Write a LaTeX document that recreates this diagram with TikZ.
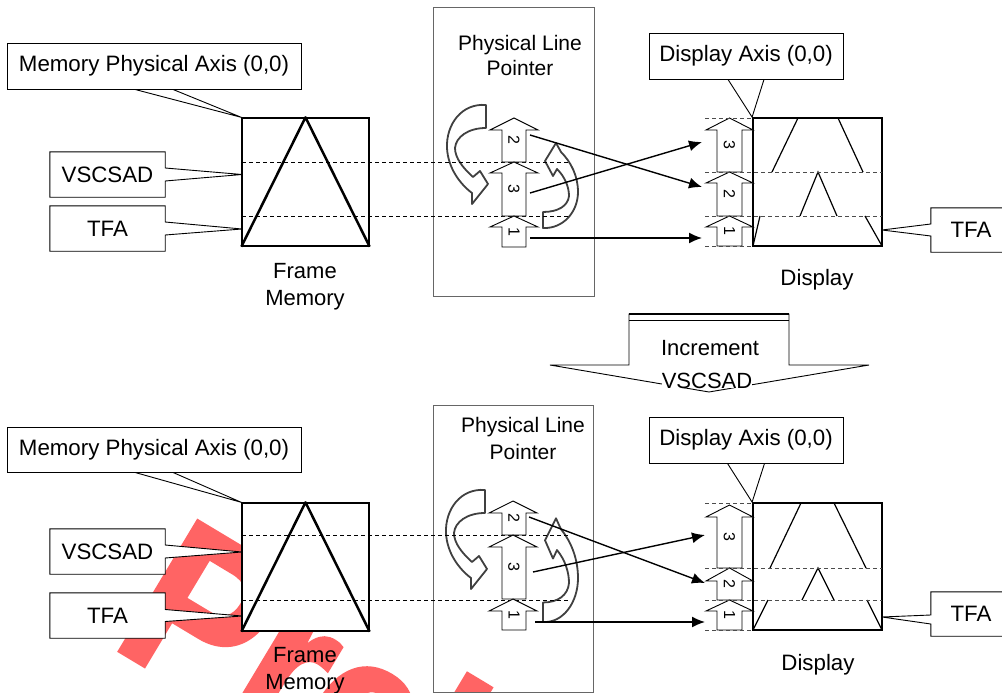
\documentclass[tikz,border=0pt]{standalone}
\usepackage{fontspec}
\setmainfont{Liberation Sans}
\newfontfamily\wmfont{Liberation Sans}[FakeBold=2.5]
\usetikzlibrary{arrows.meta}
\pgfdeclarelayer{wm}
\pgfdeclarelayer{bg}
\pgfsetlayers{wm,bg,main}
\definecolor{wmred}{RGB}{255,100,100}
% block up-arrow: name, head left, shaft left, shaft right, head right, top, head base, bottom, label
\newcommand\blkup[9]{%
  \draw[blk] (#3,#8) -- (#3,#7) -- (#2,#7) -- ({(#2+#5)/2},#6) -- (#5,#7) -- (#4,#7) -- (#4,#8) -- cycle;
  \node[num] (#1) at ({(#3+#4)/2},{(#6+#8)/2}) {#9};}
\newcommand\leftcurv{%
  \draw[curv] (0,0) .. controls (-24,-2) and (-40,19) .. (-39,43) .. controls (-38,63) and (-26,79) .. (-14,88)
    -- (-14,99) -- (2,79) -- (-6,66) -- (-13,72) .. controls (-23,63) and (-31,53) .. (-31,43)
    .. controls (-30,32) and (-18,23) .. (0,23) -- cycle;}
\newcommand\rightcurv{%
  \draw[curv] (0,0) .. controls (20,1) and (35,-16) .. (35,-36) .. controls (35,-52) and (28,-66) .. (18,-76)
    -- (13,-85) -- (2,-67) -- (10,-52) -- (14,-59) .. controls (22,-51) and (26,-41) .. (26,-32)
    .. controls (25,-22) and (15,-16) .. (0,-16) -- cycle;}
\begin{document}
\begin{tikzpicture}[x=1pt,y=-1pt,
  lbl/.style={font=\fontsize{22.3}{27}\selectfont, inner sep=0pt, align=center},
  box/.style={lbl, draw, fill=white, line width=0.9pt},
  co/.style={draw, fill=white, line width=0.9pt, line join=miter},
  num/.style={font=\fontsize{16}{16}\selectfont, rotate=-90, inner sep=0pt},
  blk/.style={draw, fill=white, line width=0.9pt, line join=miter},
  dsh/.style={dash pattern=on 4pt off 3pt, line width=0.8pt},
  dshg/.style={dsh, draw=black!70},
  conn/.style={line width=1.4pt, -{Latex[length=13pt,width=11pt]}},
  frm/.style={draw, fill=white, line width=1.3pt, minimum width=127pt, minimum height=128pt, inner sep=0pt},
  dsp/.style={draw, fill=white, line width=1.8pt, minimum width=129pt, minimum height=128pt, inner sep=0pt},
  tri/.style={line width=2.5pt, line join=round},
  dl/.style={line width=1.2pt},
  ptr/.style={draw=black!60, line width=1pt, inner sep=0pt},
  curv/.style={draw=black!75, fill=white, line width=1.8pt, line join=round},
]
\useasboundingbox (0,0) rectangle (1002,693);
\begin{pgfonlayer}{wm}
  \fill[white] (0,0) rectangle (1002,693);
  \begin{scope}
    \clip (0,0) rectangle (1002,693);
    \node[anchor=base west, rotate=-31, xscale=0.88, inner sep=0pt, text=wmred,
      font=\wmfont\bfseries\fontsize{218}{218}\selectfont] (wmk) at (109.5,644) {Preliminary};
  \end{scope}
\end{pgfonlayer}
\clip (0,0) rectangle (1002,693);

% ================= TOP =================
% pointer box
\node[ptr, minimum width=161pt, minimum height=288pt] (pbox1) at (513.5,152) {};
\node[lbl, font=\fontsize{21}{25}\selectfont] (plp1) at (520,55.8) {Physical Line\\Pointer};
\begin{scope}[shift={(486,105)}]\leftcurv\end{scope}
\begin{scope}[shift={(543,228)}]\rightcurv\end{scope}

% frame memory
\node[frm] (fm1) at (305.5,182) {};
\draw[dsh] (242,162) -- (568,162);
\draw[dsh] (242,216) -- (568,216);
\draw[tri] (fm1.south west) -- (fm1.north) -- (fm1.south east);
\node[lbl, font=\fontsize{22}{27}\selectfont] (fmt1) at (305,287) {Frame\\Memory};

% callouts left
\node[box, minimum width=294pt, minimum height=46pt] (m1) at (154,66) {Memory Physical Axis (0,0)};
\begin{pgfonlayer}{bg}
  \draw[co] ([xshift=-19pt]m1.south) -- (fm1.north west) -- ([xshift=19pt]m1.south);
\end{pgfonlayer}
\node[lbl, minimum width=115pt, minimum height=45pt] (v1) at (107.5,174.5) {VSCSAD};
\coordinate (v1p) at (242,174.5);
\begin{pgfonlayer}{bg}
  \draw[co] (v1.north west) -- (v1.north east) -- ([yshift=6.5pt]v1.east) -- (v1p) -- ([yshift=-6.5pt]v1.east) -- (v1.south east) -- (v1.south west) -- cycle;
\end{pgfonlayer}
\node[lbl, minimum width=115pt, minimum height=45pt] (t1) at (107.5,228.5) {TFA};
\coordinate (t1p) at (242,229);
\begin{pgfonlayer}{bg}
  \draw[co] (t1.north west) -- (t1.north east) -- ([yshift=6.5pt]t1.east) -- (t1p) -- ([yshift=-6.5pt]t1.east) -- (t1.south east) -- (t1.south west) -- cycle;
\end{pgfonlayer}

% pointer block arrows
\blkup{pa2}{490}{502}{526}{538}{118}{130}{162}{2}
\blkup{pa3}{490}{502}{526}{538}{162}{173}{216}{3}
\blkup{pa1}{490}{502}{526}{538}{216}{227}{247}{1}

% display
\node[dsp] (d1) at (817.5,182) {};
\draw[dl] (798,118) -- (772,172);
\draw[dl] (838,118) -- (863,172);
\draw[dl] (800,216) -- (818,172) -- (837,216);
\draw[dl] (760,216) -- (753,246);
\draw[dl] (865,216) -- (882,246);
\blkup{da3}{706}{717}{742}{753}{118}{130}{172}{3}
\blkup{da2}{706}{717}{742}{753}{172}{183}{216}{2}
\blkup{da1}{706}{717}{742}{753}{216}{227}{246}{1}
\draw[dshg] (705,118) -- (753,118);
\draw[dshg] (705,172) -- (882,172);
\draw[dshg] (705,216) -- (882,216);
\draw[dshg] (705,246) -- (753,246);
\node[lbl, anchor=base] (dt1) at (817,285) {Display};

\node[box, minimum width=194pt, minimum height=46pt] (a1) at (746,56) {Display Axis (0,0)};
\begin{pgfonlayer}{bg}
  \draw[co] ([xshift=-18pt]a1.south) -- (d1.north west) -- ([xshift=18pt]a1.south);
\end{pgfonlayer}
\node[lbl, minimum width=80pt, minimum height=44pt] (r1) at (971,230) {TFA};
\coordinate (r1p) at (882,230);
\begin{pgfonlayer}{bg}
  \draw[co] (r1.north east) -- (r1.north west) -- ([yshift=6pt]r1.west) -- (r1p) -- ([yshift=-6pt]r1.west) -- (r1.south west) -- (r1.south east) -- cycle;
\end{pgfonlayer}

% connectors
\coordinate (pa2o) at (530,135); \coordinate (da2i) at (702,187);
\coordinate (pa3o) at (530,193); \coordinate (da3i) at (702,142);
\coordinate (pa1o) at (530,238); \coordinate (da1i) at (702,238);
\draw[conn] (pa2o) -- (da2i);
\draw[conn] (pa3o) -- (da3i);
\draw[conn] (pa1o) -- (da1i);

% ================= INCREMENT ARROW =================
\draw[line width=0.9pt, line join=miter, fill=white] (629,314) -- (629,365) -- (550,365) -- (709,392) -- (869,365) -- (789,365) -- (789,314) -- cycle;
\draw[line width=1.6pt] (629,314) -- (789,314);
\draw[line width=0.8pt] (629,320) -- (789,320);
\node[lbl, anchor=base, font=\fontsize{22}{27}\selectfont] (inc) at (710,355) {Increment};
\node[lbl, anchor=base, fill=white, font=\fontsize{22}{27}\selectfont] (incv) at (707,388) {VSCSAD};

% ================= BOTTOM =================
\node[ptr, minimum width=160pt, minimum height=287pt] (pbox2) at (513,548.5) {};
\node[lbl, font=\fontsize{21}{26.6}\selectfont] (plp2) at (523,438.2) {Physical Line\\Pointer};
\begin{scope}[shift={(485,490)}]\leftcurv\end{scope}
\begin{scope}[shift={(543,622)}, yscale=1.22]\rightcurv\end{scope}

\node[frm] (fm2) at (305.5,567) {};
\draw[dsh] (242,535) -- (568,535);
\draw[dsh] (242,600) -- (568,600);
\draw[tri] (fm2.south west) -- (fm2.north) -- (fm2.south east);
\node[lbl, font=\fontsize{22}{27}\selectfont] (fmt2) at (305,670.6) {Frame\\Memory};

\node[box, minimum width=294pt, minimum height=45pt] (m2) at (154,449.5) {Memory Physical Axis (0,0)};
\begin{pgfonlayer}{bg}
  \draw[co] ([xshift=-19pt]m2.south) -- (fm2.north west) -- ([xshift=19pt]m2.south);
\end{pgfonlayer}
\node[lbl, minimum width=115pt, minimum height=45pt] (v2) at (107.5,551.5) {VSCSAD};
\coordinate (v2p) at (242,552);
\begin{pgfonlayer}{bg}
  \draw[co] (v2.north west) -- (v2.north east) -- ([yshift=6.5pt]v2.east) -- (v2p) -- ([yshift=-6.5pt]v2.east) -- (v2.south east) -- (v2.south west) -- cycle;
\end{pgfonlayer}
\node[lbl, minimum width=115pt, minimum height=45pt] (t2) at (107.5,615.5) {TFA};
\coordinate (t2p) at (242,616);
\begin{pgfonlayer}{bg}
  \draw[co] (t2.north west) -- (t2.north east) -- ([yshift=6pt]t2.east) -- (t2p) -- ([yshift=-6pt]t2.east) -- (t2.south east) -- (t2.south west) -- cycle;
\end{pgfonlayer}

\blkup{pb2}{489}{502}{526}{537}{501}{513}{535}{2}
\blkup{pb3}{489}{502}{526}{537}{535}{547}{599}{3}
\blkup{pb1}{489}{502}{526}{537}{599}{611}{630}{1}

\node[dsp, minimum height=127pt] (d2) at (817.5,566.5) {};
\draw[dl] (801,503) -- (770,568);
\draw[dl] (834,503) -- (866,568);
\draw[dl] (802,600) -- (818,568) -- (834,600);
\draw[dl] (768,600) -- (753,630);
\draw[dl] (867,600) -- (882,630);
\blkup{db3}{706}{717}{742}{753}{505}{517}{568}{3}
\blkup{db2}{706}{717}{742}{753}{568}{581}{600}{2}
\blkup{db1}{706}{717}{742}{753}{600}{611}{630}{1}
\draw[dshg] (705,503) -- (753,503);
\draw[dshg] (705,568) -- (882,568);
\draw[dshg] (705,600) -- (882,600);
\draw[dshg] (705,630) -- (753,630);
\node[lbl, anchor=base] (dt2) at (818,670) {Display};

\node[box, minimum width=194pt, minimum height=46pt] (a2) at (746,440) {Display Axis (0,0)};
\begin{pgfonlayer}{bg}
  \draw[co] ([xshift=-18.5pt]a2.south) -- (d2.north west) -- ([xshift=18.5pt]a2.south);
\end{pgfonlayer}
\node[lbl, minimum width=80pt, minimum height=44pt] (r2) at (971,614) {TFA};
\coordinate (r2p) at (882,617);
\begin{pgfonlayer}{bg}
  \draw[co] (r2.north east) -- (r2.north west) -- ([yshift=-1pt]r2.west) -- (r2p) -- ([yshift=-10pt]r2.west) -- (r2.south west) -- (r2.south east) -- cycle;
\end{pgfonlayer}

\coordinate (pb2o) at (529,517); \coordinate (db2i) at (705,583);
\coordinate (pb3o) at (533,572); \coordinate (db3i) at (705,535);
\coordinate (pb1o) at (535,622); \coordinate (db1i) at (705,622);
\draw[conn] (pb2o) -- (db2i);
\draw[conn] (pb3o) -- (db3i);
\draw[conn] (pb1o) -- (db1i);
\end{tikzpicture}
\end{document}
